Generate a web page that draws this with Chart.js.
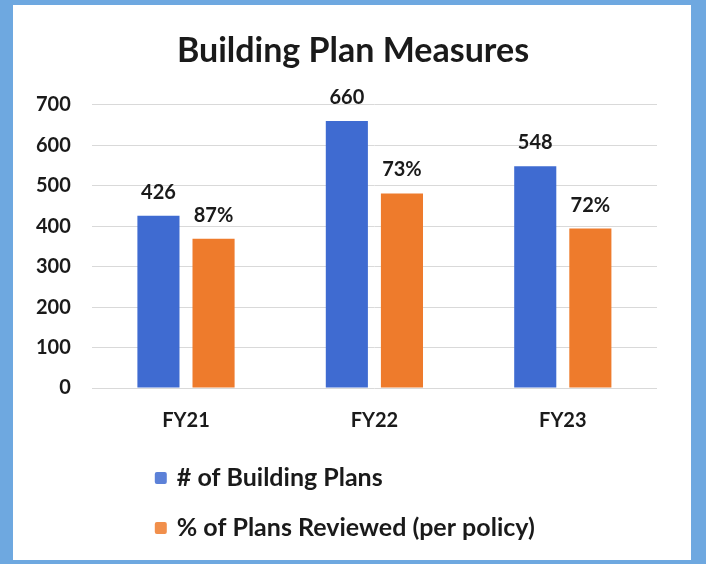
<!DOCTYPE html>
<html>
<head>
<meta charset="utf-8">
<script src="https://cdn.jsdelivr.net/npm/chart.js@4.4.1/dist/chart.umd.min.js"></script>
<style>
  html, body { margin: 0; padding: 0; }
  body { width: 706px; height: 564px; background: #6EA8E0; position: relative; overflow: hidden; }
  #panel { position: absolute; left: 13px; top: 5px; width: 678px; height: 555px; background: #ffffff; }
  #panel canvas { display: block; }
</style>
</head>
<body>
<div id="panel"><canvas id="c" width="678" height="555"></canvas></div>
<script>
const categories = ['FY21', 'FY22', 'FY23'];
const buildingPlans = [426, 660, 548];
const plansReviewed = [369, 481, 394];
const reviewedPctLabels = ['87%', '73%', '72%'];
const seriesNames = ['# of Building Plans', '% of Plans Reviewed (per policy)'];
const yTicks = [0, 100, 200, 300, 400, 500, 600, 700];

const FONT = "Lato, 'Open Sans', sans-serif";
const BLUE = '#3F6BD1';
const ORANGE = '#EE7B2C';

const dataLabelPlugin = {
  id: 'dataLabels',
  afterDatasetsDraw(chart) {
    const ctx = chart.ctx;
    ctx.save();
    ctx.font = 'bold 20px ' + FONT;
    ctx.fillStyle = '#1a1a1a';
    ctx.textAlign = 'center';
    ctx.textBaseline = 'alphabetic';
    chart.data.datasets.forEach((ds, di) => {
      const meta = chart.getDatasetMeta(di);
      meta.data.forEach((bar, i) => {
        const txt = ds.labelsText ? ds.labelsText[i] : String(ds.data[i]);
        ctx.fillText(txt, bar.x, bar.y - 17);
      });
    });
    ctx.restore();
  }
};

const customLegend = {
  id: 'customLegend',
  afterDraw(chart) {
    const ctx = chart.ctx;
    const xs = chart.scales.x;
    const startX = xs.left + 63;
    const firstY = xs.bottom + 24;
    const rowGap = 50;
    ctx.save();
    ctx.font = 'bold 25px ' + FONT;
    ctx.textBaseline = 'middle';
    ctx.textAlign = 'left';
    chart.data.datasets.forEach((ds, i) => {
      const y = firstY + i * rowGap;
      ctx.fillStyle = ds.backgroundColor;
      ctx.globalAlpha = 0.85;
      ctx.beginPath();
      ctx.roundRect(startX, y - 6, 12, 12, 2);
      ctx.fill();
      ctx.globalAlpha = 1;
      ctx.fillStyle = '#1a1a1a';
      ctx.fillText(ds.label, startX + 22, y);
    });
    ctx.restore();
  }
};

new Chart(document.getElementById('c'), {
  type: 'bar',
  data: {
    labels: categories,
    datasets: [
      { label: seriesNames[0], data: buildingPlans, backgroundColor: BLUE,
        categoryPercentage: 0.585, barPercentage: 0.764 },
      { label: seriesNames[1], data: plansReviewed, backgroundColor: ORANGE, labelsText: reviewedPctLabels,
        categoryPercentage: 0.585, barPercentage: 0.764 }
    ]
  },
  options: {
    responsive: false,
    animation: false,
    layout: { padding: { left: 2, right: 0, top: 0, bottom: 106 } },
    plugins: {
      legend: { display: false },
      tooltip: { enabled: false },
      title: {
        display: true,
        text: 'Building Plan Measures',
        color: '#1a1a1a',
        font: { family: FONT, size: 34, weight: 'bold' },
        padding: { top: 26, bottom: 33 }
      }
    },
    scales: {
      x: {
        grid: { display: false, drawTicks: false },
        border: { display: false },
        ticks: { color: '#1a1a1a', padding: 21, font: { family: FONT, size: 20, weight: 'bold' } }
      },
      y: {
        min: 0,
        max: 700,
        afterBuildTicks(scale) { scale.ticks = yTicks.map(v => ({ value: v })); },
        grid: { color: '#d9d9d9', lineWidth: 1, drawTicks: false },
        border: { display: false },
        ticks: { color: '#1a1a1a', padding: 21, font: { family: FONT, size: 20, weight: 'bold' } }
      },
      ySpacer: {
        position: 'right',
        min: 0,
        max: 700,
        grid: { display: false, drawTicks: false },
        border: { display: false },
        ticks: { display: false },
        afterFit(scale) { scale.width = 34; }
      }
    }
  },
  plugins: [dataLabelPlugin, customLegend]
});
</script>
</body>
</html>
